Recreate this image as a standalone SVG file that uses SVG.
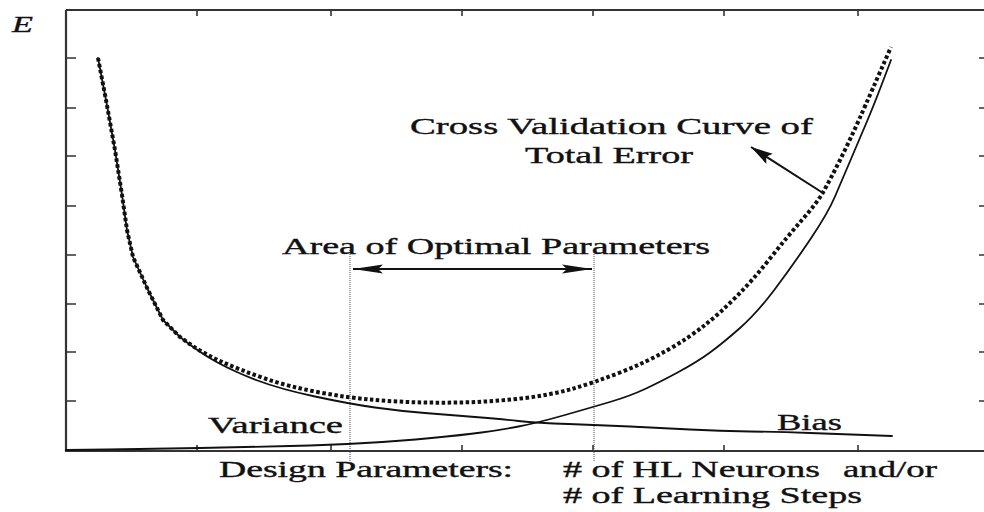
<svg xmlns="http://www.w3.org/2000/svg" width="984" height="512" viewBox="0 0 984 512">
  <style>
    .lbl { font-family: "Liberation Serif", "Times New Roman", serif; font-size: 22.5px; fill: #111; stroke: #111; stroke-width: 0.35px; }
    .axis { stroke: #333; stroke-width: 2.2; fill: none; }
    .tick { stroke: #333; stroke-width: 1.6; fill: none; }
    .solid { stroke: #111; stroke-width: 1.8; fill: none; stroke-linejoin: round; stroke-linecap: round; }
    .total { stroke: #111; stroke-width: 4; fill: none; stroke-dasharray: 3.5 2.5; stroke-linejoin: round; }
    .guide { stroke: #444; stroke-width: 1; stroke-dasharray: 1 1; fill: none; }
    .conn { stroke: #111; stroke-width: 2; fill: none; }
  </style>
  <defs>
    <marker id="head" markerUnits="userSpaceOnUse" markerWidth="32" markerHeight="12" refX="30" refY="5" orient="auto-start-reverse">
      <path d="M0,0.5 L30,5 L0,9.5 L5,5 Z" fill="#111"/>
    </marker>
    <marker id="head2" markerUnits="userSpaceOnUse" markerWidth="24" markerHeight="14" refX="22" refY="6" orient="auto">
      <path d="M0,0 L22,6 L0,12 L4,6 Z" fill="#111"/>
    </marker>
  </defs>

  <rect width="984" height="512" fill="#fff"/>

  <!-- frame and ticks -->
  <g id="axes">
    <path class="axis" d="M66,10 V451 H984"/>
    <path class="axis" d="M66,10 H984"/>
    <path class="tick" d="M66,58 h10 M66,108 h10 M66,156 h10 M66,206 h10 M66,255 h10 M66,304 h10 M66,352 h10 M66,401 h10"/>
    <path class="tick" d="M979,58 h5 M979,108 h5 M979,156 h5 M979,206 h5 M979,255 h5 M979,304 h5 M979,352 h5 M979,401 h5"/>
    <path class="tick" d="M197,10 v6 M331,10 v6 M462,10 v6 M593,10 v6 M724,10 v6 M858,10 v6"/>
    <path class="tick" d="M197,451 v-6 M331,451 v-6 M462,451 v-6 M593,451 v-6 M724,451 v-6 M858,451 v-6"/>
  </g>

  <!-- optimal-area guides -->
  <g id="guides">
    <path class="guide" d="M350,250 V462 M594,250 V462"/>
  </g>

  <!-- variance curve -->
  <g id="variance-curve">
    <path class="solid" d="M98,58 L106,100 L115,150 L122,195 L127,230 L133,257 L148,290 L163,320 L180,337 Q200,353 217.5,362.5 Q235,372 257.5,380.5 Q280,389 315,396.5 Q350,404 375,407.5 Q400,411 425,413 Q450,415 475,417 Q500,419 518.5,421 Q537,423 568.5,424 Q600,425 630,426.5 Q660,428 690,429.5 Q720,431 750,431.5 Q780,432 810,433 Q840,434 892,436"/>
  </g>

  <!-- bias curve -->
  <g id="bias-curve">
    <path class="solid" d="M66,450 L108,449.5 Q150,449 200,448 Q250,447 290,446 Q330,445 365,443 Q400,441 431.5,438 Q463,435 481.5,432.5 Q500,430 518.5,426.5 Q537,423 565,415 Q593,407 611.5,401.5 Q630,396 645,389 Q660,382 678.5,372 Q697,362 710,352.5 Q723,343 740,328 Q757,313 775,289 Q793,265 810.5,239 Q828,213 835,196.5 Q842,180 851,159 Q860,138 868,119 Q876,100 891,60"/>
  </g>

  <!-- total error (cross validation) curve -->
  <g id="total-curve">
    <path class="total" d="M98,58 L106,100 L115,150 L122,195 L127,230 L133,257 L148,290 L163,320 L180,337 Q200,352 220,361 Q240,370 265,378.5 Q290,387 320,392.5 Q350,398 375,400 Q400,402 425,402.5 Q450,403 475,402 Q500,401 525,398 Q550,395 571.5,389 Q593,383 620,372.5 Q647,362 668.5,349.5 Q690,337 705,325 Q720,313 736.5,296.5 Q753,280 770,258.5 Q787,237 802,220 Q817,203 823.5,191.5 Q830,180 840,160 Q850,140 860,117.5 Q870,95 891,47"/>
  </g>

  <!-- connectors -->
  <g id="connectors">
    <line class="conn" x1="353" y1="269" x2="592" y2="269" marker-start="url(#head)" marker-end="url(#head)"/>
    <line class="conn" x1="823" y1="193" x2="751" y2="147" marker-end="url(#head2)"/>
  </g>

  <!-- labels (glyphs widened horizontally) -->
  <g id="label-e"><text class="lbl" transform="translate(12,32) scale(1.55,1)" font-style="italic" textLength="13.5" lengthAdjust="spacingAndGlyphs">E</text></g>
  <g id="label-cv">
    <text class="lbl" transform="translate(410,134) scale(1.7,1)" textLength="237" lengthAdjust="spacingAndGlyphs">Cross Validation Curve of</text>
    <text class="lbl" transform="translate(525,163) scale(1.7,1)" textLength="98.8" lengthAdjust="spacingAndGlyphs">Total Error</text>
  </g>
  <g id="label-area"><text class="lbl" transform="translate(282,254) scale(1.7,1)" textLength="251.8" lengthAdjust="spacingAndGlyphs">Area of Optimal Parameters</text></g>
  <g id="label-variance"><text class="lbl" transform="translate(208,433) scale(1.7,1)" textLength="79.4" lengthAdjust="spacingAndGlyphs">Variance</text></g>
  <g id="label-bias"><text class="lbl" transform="translate(777,430) scale(1.7,1)" textLength="38.2" lengthAdjust="spacingAndGlyphs">Bias</text></g>
  <g id="label-design">
    <text class="lbl" transform="translate(219,477) scale(1.7,1)" textLength="173" lengthAdjust="spacingAndGlyphs">Design Parameters:</text>
    <text class="lbl" transform="translate(563,477) scale(1.7,1)" textLength="151.2" lengthAdjust="spacingAndGlyphs"># of HL Neurons</text>
    <text class="lbl" transform="translate(843,477) scale(1.7,1)" textLength="55.3" lengthAdjust="spacingAndGlyphs">and/or</text>
    <text class="lbl" transform="translate(563,503) scale(1.7,1)" textLength="175.9" lengthAdjust="spacingAndGlyphs"># of Learning Steps</text>
  </g>
</svg>
